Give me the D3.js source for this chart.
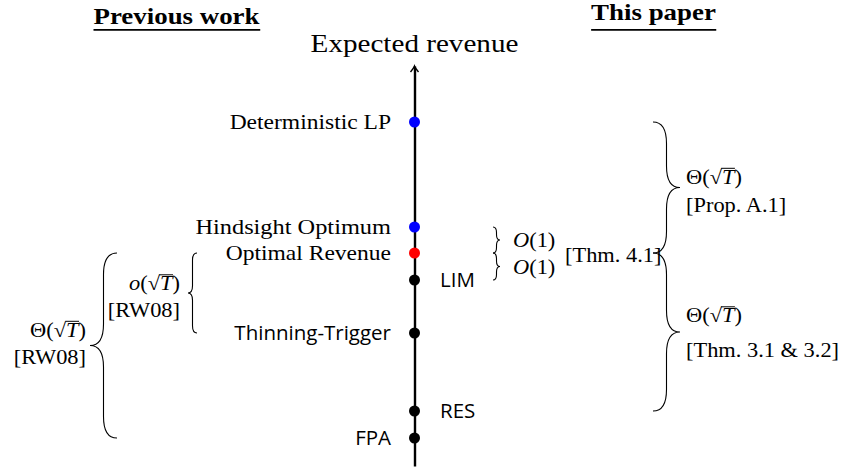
<!DOCTYPE html>
<html>
<head>
<meta charset="utf-8">
<script src="https://cdn.jsdelivr.net/npm/d3@7"></script>
<style>
  html, body { margin: 0; padding: 0; background: #fff; }
  svg { display: block; }
</style>
</head>
<body>
<svg id="chart" width="847" height="467"></svg>
<script>
// ---------------- DATA ----------------
const categories = ["Deterministic LP", "Hindsight Optimum", "Optimal Revenue", "LIM", "Thinning-Trigger", "RES", "FPA"];
const revenue    = [344, 239, 213, 186, 133, 55, 28];           // relative expected-revenue level
const kind       = ["benchmark", "benchmark", "optimum", "policy", "policy", "policy", "policy"];
const labelSide  = ["left", "left", "left", "right", "left", "right", "left"];

const braceFrom  = ["Optimal Revenue", "Optimal Revenue", "Hindsight Optimum", "Optimal Revenue", "Deterministic LP", "Optimal Revenue"];
const braceTo    = ["FPA", "Thinning-Trigger", "Optimal Revenue", "LIM", "Optimal Revenue", "RES"];
const braceMath  = ["Θ(√T)", "o(√T)", "O(1)", "O(1)", "Θ(√T)", "Θ(√T)"];
const braceCite  = ["[RW08]", "[RW08]", "", "", "[Prop. A.1]", "[Thm. 3.1 & 3.2]"];
const sharedCite = "[Thm. 4.1]";

const headers    = ["Previous work", "This paper"];
const axisTitle  = "Expected revenue";

// ---------------- LAYOUT / STYLE ----------------
const SERIF = "'Liberation Serif', 'Times New Roman', serif";
const SANS  = "'Open Sans', 'Noto Sans', sans-serif";
const STRETCH = 1.12;
const colorOf = d3.scaleOrdinal().domain(["benchmark", "optimum", "policy"]).range(["#0000ff", "#ff0000", "#000000"]);

const svg = d3.select("#chart");
const axisX = 414.5;
const y = d3.scaleLinear().domain([0, 400]).range([466, 66]);
const yOf = name => y(revenue[categories.indexOf(name)]);

function stretch(sel, k) {
  sel.each(function () {
    const n = this.getComputedTextLength();
    d3.select(this).attr("textLength", n * k).attr("lengthAdjust", "spacingAndGlyphs");
  });
  return sel;
}

// headers
const headerLayout = [{ cx: 176.5, base: 24 }, { cx: 653.5, base: 20 }];
headers.forEach((h, i) => {
  const t = svg.append("text")
    .attr("x", headerLayout[i].cx).attr("y", headerLayout[i].base)
    .attr("text-anchor", "middle")
    .style("font-family", SERIF).style("font-weight", "bold").style("font-size", "24px")
    .text(h);
  stretch(t, STRETCH);
  const bb = t.node().getBBox();
  svg.append("line")
    .attr("x1", bb.x).attr("x2", bb.x + bb.width)
    .attr("y1", 29.8).attr("y2", 29.8)
    .attr("stroke", "#000").attr("stroke-width", 1.7);
});

// axis title
stretch(svg.append("text")
  .attr("x", axisX).attr("y", 52).attr("text-anchor", "middle")
  .style("font-family", SERIF).style("font-size", "26px")
  .text(axisTitle), STRETCH);

// axis line (drawn with d3 axis, no ticks) + arrow head
const axis = d3.axisLeft(y).tickValues([]).tickSizeOuter(0);
const gAxis = svg.append("g").attr("transform", `translate(${axisX},0)`).call(axis);
gAxis.select(".domain").attr("stroke", "#000").attr("stroke-width", 2.4);
const yTop = y(400);
svg.append("path")
  .attr("d", `M${axisX - 4},${yTop + 6} Q${axisX - 1},${yTop + 2.5} ${axisX},${yTop} Q${axisX + 1},${yTop + 2.5} ${axisX + 4},${yTop + 6}`)
  .attr("fill", "none").attr("stroke", "#000").attr("stroke-width", 1.4);

// points
svg.selectAll("circle.pt").data(categories).join("circle")
  .attr("class", "pt")
  .attr("cx", axisX).attr("cy", (d, i) => y(revenue[i]))
  .attr("r", 5.5)
  .attr("fill", (d, i) => colorOf(kind[i]));

// point labels
categories.forEach((c, i) => {
  const serif = kind[i] !== "policy";
  const left = labelSide[i] === "left";
  const t = svg.append("text")
    .attr("x", left ? axisX - 23.5 : axisX + 25.5)
    .attr("y", y(revenue[i]) + (serif ? 6.5 : 7))
    .attr("text-anchor", left ? "end" : "start")
    .style("font-family", serif ? SERIF : SANS)
    .style("font-size", serif ? "21px" : "20.5px")
    .text(c);
  if (serif) stretch(t, c === "Hindsight Optimum" ? 1.16 : STRETCH);
});

// braces
function bracePath(x0, y1, y2, w, dir) {
  const x1 = x0 + dir * w / 2, xt = x0 + dir * w, ym = (y1 + y2) / 2;
  const q = Math.min(w * 0.8, (y2 - y1) / 4);
  return `M${x0},${y1} Q${x1},${y1} ${x1},${y1 + q} L${x1},${ym - q} Q${x1},${ym} ${xt},${ym}` +
         ` Q${x1},${ym} ${x1},${ym + q} L${x1},${y2 - q} Q${x1},${y2} ${x0},${y2}`;
}
const braceLayout = [
  { x: 117, w: 27, dir: -1, dx: -4, dy1: -9, dy2: 18 },
  { x: 197, w: 9,  dir: -1, dx: -8, dy1: -3, dy2: 24 },
  { x: 493, w: 7,  dir: 1,  dx: 13, dy1: 7,  dy2: 0 },
  { x: 493, w: 7,  dir: 1,  dx: 13, dy1: 7,  dy2: 0 },
  { x: 653, w: 27, dir: 1,  dx: 6,  dy1: -4, dy2: 24 },
  { x: 653, w: 27, dir: 1,  dx: 6,  dy1: -10, dy2: 25 }
];

function mathText(x, yb, anchor, s) {
  const t = svg.append("text").attr("x", x).attr("y", yb).attr("text-anchor", anchor)
    .style("font-family", SERIF).style("font-size", "20px");
  const parts = s.match(/√|[ToO]|[^√ToO]+/g);
  parts.forEach(p => {
    t.append("tspan").style("font-style", /^[ToO]$/.test(p) ? "italic" : "normal").text(p);
  });
  stretch(t, STRETCH);
  const node = t.node();
  const ri = s.indexOf("√");
  if (ri >= 0) {
    const xs = node.getEndPositionOfChar(ri).x - 0.8;
    const xe = node.getEndPositionOfChar(ri + 1).x + 0.5;
    svg.append("line").attr("x1", xs).attr("x2", xe)
      .attr("y1", yb - 15.2).attr("y2", yb - 15.2)
      .attr("stroke", "#000").attr("stroke-width", 1);
  }
  return t;
}

braceFrom.forEach((f, i) => {
  const L = braceLayout[i];
  const y1 = yOf(f), y2 = yOf(braceTo[i]);
  svg.append("path").attr("d", bracePath(L.x, y1, y2, L.w, L.dir))
    .attr("fill", "none").attr("stroke", "#000").attr("stroke-width", 1.1);
  const tipX = L.x + L.dir * L.w, ym = (y1 + y2) / 2;
  const anchor = L.dir < 0 ? "end" : "start";
  mathText(tipX + L.dx, ym + L.dy1, anchor, braceMath[i]);
  if (braceCite[i]) {
    stretch(svg.append("text").attr("x", tipX + L.dx).attr("y", ym + L.dy2).attr("text-anchor", anchor)
      .style("font-family", SERIF).style("font-size", "20px").text(braceCite[i]), STRETCH);
  }
});

// shared citation for the two O(1) gaps
stretch(svg.append("text")
  .attr("x", 565).attr("y", yOf("Optimal Revenue") + 8.5)
  .style("font-family", SERIF).style("font-size", "20px")
  .text(sharedCite), STRETCH);
</script>
</body>
</html>
